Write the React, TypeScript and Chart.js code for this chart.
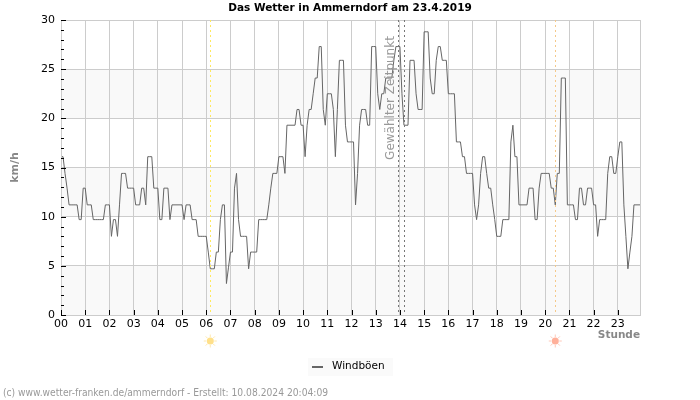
import React, { useEffect, useRef } from "react";
import { Chart, registerables } from "chart.js";

Chart.register(...registerables);

const FONT = "'DejaVu Sans', sans-serif";
const title = "Das Wetter in Ammerndorf am 23.4.2019";
const seriesName = "Windböen";
const hourLabels = ["00","01","02","03","04","05","06","07","08","09","10","11","12","13","14","15","16","17","18","19","20","21","22","23"];
const yMajor = [0, 5, 10, 15, 20, 25, 30];
const shadedBands = [[0, 5], [10, 15], [20, 25]];

// Gust values in km/h, one sample every five minutes, grouped by hour
const h00 = [16.1,16.1,14.4,12.9,11.2,11.2,11.2,11.2,11.2,9.7,9.7,12.9];
const h01 = [12.9,11.2,11.2,11.2,9.7,9.7,9.7,9.7,9.7,9.7,11.2,11.2];
const h02 = [11.2,8,9.7,9.7,8,11.2,14.4,14.4,14.4,12.9,12.9,12.9];
const h03 = [12.9,11.2,11.2,11.2,12.9,12.9,11.2,16.1,16.1,16.1,12.9,12.9];
const h04 = [12.9,9.7,9.7,12.9,12.9,12.9,9.7,11.2,11.2,11.2,11.2,11.2];
const h05 = [11.2,9.7,11.2,11.2,11.2,9.7,9.7,9.7,8,8,8,8];
const h06 = [8,6.4,4.7,4.7,4.7,6.4,6.4,9.7,11.2,11.2,3.2,4.8];
const h07 = [6.4,6.4,12.9,14.4,9.7,8,8,8,8,4.7,6.4,6.4];
const h08 = [6.4,6.4,9.7,9.7,9.7,9.7,9.7,11.2,12.9,14.4,14.4,14.4];
const h09 = [16.1,16.1,16.1,14.4,19.3,19.3,19.3,19.3,19.3,20.9,20.9,19.3];
const h10 = [19.3,16.1,19.3,20.9,20.9,22.5,24.1,24.1,27.3,27.3,20.9,19.3];
const h11 = [22.5,22.5,22.5,20.9,16.1,20.9,25.9,25.9,25.9,19.3,17.6,17.6];
const h12 = [17.6,17.6,11.2,14.4,19.3,20.9,20.9,20.9,19.3,19.3,27.3,27.3];
const h13 = [27.3,22.5,20.9,22.5,22.5,24.1,24.1,24.1,24.1,25.9,27.3,27.3];
const h14 = [27.3,22.5,19.3,19.3,19.3,25.9,25.9,25.9,22.5,20.9,20.9,20.9];
const h15 = [28.8,28.8,28.8,24.1,22.5,22.5,25.9,27.3,27.3,25.9,25.9,25.9];
const h16 = [22.5,22.5,22.5,22.5,17.6,17.6,17.6,16.1,16.1,14.4,14.4,14.4];
const h17 = [14.4,11.2,9.7,11.2,14.4,16.1,16.1,14.4,12.9,12.9,11.2,9.7];
const h18 = [8,8,8,9.7,9.7,9.7,9.7,17.6,19.3,16.1,16.1,11.2];
const h19 = [11.2,11.2,11.2,11.2,12.9,12.9,12.9,9.7,9.7,12.9,14.4,14.4];
const h20 = [14.4,14.4,14.4,12.9,12.9,11.2,14.4,14.4,24.1,24.1,24.1,11.2];
const h21 = [11.2,11.2,11.2,9.7,9.7,12.9,12.9,11.2,11.2,12.9,12.9,12.9];
const h22 = [11.2,11.2,8,9.7,9.7,9.7,9.7,14.4,16.1,16.1,14.4,14.4];
const h23 = [16.1,17.6,17.6,11.2,8,4.7,6.4,8,11.2,11.2,11.2,11.2];
const gusts = [h00,h01,h02,h03,h04,h05,h06,h07,h08,h09,h10,h11,h12,h13,h14,h15,h16,h17,h18,h19,h20,h21,h22,h23].flat();

// Sample indices of the marked moments
const sunrise = 74;
const sunset = 245;
const selectedFrom = 167;
const selectedTo = 170;

const decorations = {
  id: "decorations",
  beforeDraw(chart: any) {
    const { ctx, chartArea: a, scales: { y } } = chart;
    ctx.save();
    ctx.fillStyle = "#f9f9f9";
    for (const [lo, hi] of shadedBands) {
      ctx.fillRect(a.left, y.getPixelForValue(hi), a.width, y.getPixelForValue(lo) - y.getPixelForValue(hi));
    }
    ctx.restore();
  },
  afterDatasetsDraw(chart: any) {
    const { ctx, chartArea: a, scales: { x, y } } = chart;
    ctx.save();
    // chart title, centred on the whole picture
    ctx.fillStyle = "#000000";
    ctx.font = `bold 10.5px ${FONT}`;
    ctx.textAlign = "center";
    ctx.textBaseline = "middle";
    ctx.fillText(title, 350, 8);

    // border
    ctx.strokeStyle = "#cccccc";
    ctx.lineWidth = 1;
    ctx.strokeRect(Math.round(a.left) + 0.5, Math.round(a.top) + 0.5, Math.round(a.width), Math.round(a.height));

    // vertical markers
    const vline = (v: number, color: string, dash: number[]) => {
      const px = Math.round(x.getPixelForValue(v)) + 0.5;
      ctx.strokeStyle = color;
      ctx.setLineDash(dash);
      ctx.beginPath();
      ctx.moveTo(px, a.top);
      ctx.lineTo(px, a.bottom);
      ctx.stroke();
    };
    vline(sunrise, "#ffe95c", [2, 3]);
    vline(sunset, "#f5c98a", [2, 3]);
    vline(selectedFrom, "#777777", [2, 3]);
    vline(selectedTo, "#777777", [2, 3]);
    ctx.setLineDash([]);

    // tick marks inside the plot
    ctx.strokeStyle = "#000000";
    for (const h in hourLabels) {
      const px = Math.round(x.getPixelForValue(Number(h) * 12)) + 0.5;
      ctx.beginPath();
      ctx.moveTo(px, a.bottom);
      ctx.lineTo(px, a.bottom - 5);
      ctx.stroke();
    }
    for (let v = 0; v <= 30; v++) {
      const py = Math.round(y.getPixelForValue(v)) + 0.5;
      ctx.beginPath();
      ctx.moveTo(a.left, py);
      ctx.lineTo(a.left + (v % 5 === 0 ? 5 : 3), py);
      ctx.stroke();
    }

    // selected-moment label
    ctx.save();
    ctx.translate(x.getPixelForValue(selectedFrom) - 7, 98);
    ctx.rotate(-Math.PI / 2);
    ctx.font = `12px ${FONT}`;
    ctx.fillStyle = "#999999";
    ctx.textAlign = "center";
    ctx.textBaseline = "middle";
    ctx.fillText("Gewählter Zeitpunkt", 0, 0);
    ctx.restore();

    // sun symbols
    const sun = (v: number, color: string) => {
      const cx = x.getPixelForValue(v);
      const cy = 341;
      ctx.fillStyle = color;
      ctx.strokeStyle = color;
      ctx.beginPath();
      ctx.arc(cx, cy, 3.5, 0, Math.PI * 2);
      ctx.fill();
      ctx.globalAlpha = 0.7;
      for (let i = 0; i < 8; i++) {
        const t = (i * Math.PI) / 4;
        ctx.beginPath();
        ctx.moveTo(cx + Math.cos(t) * 4, cy + Math.sin(t) * 4);
        ctx.lineTo(cx + Math.cos(t) * 6.5, cy + Math.sin(t) * 6.5);
        ctx.stroke();
      }
      ctx.globalAlpha = 1;
    };
    sun(sunrise, "#ffe08a");
    sun(sunset, "#ffb09a");

    // legend
    ctx.fillStyle = "#fafafa";
    ctx.fillRect(308, 358, 85, 18);
    ctx.fillStyle = "#666666";
    ctx.fillRect(312, 366, 11, 2);
    ctx.fillStyle = "#000000";
    ctx.font = `10.5px ${FONT}`;
    ctx.textAlign = "left";
    ctx.textBaseline = "middle";
    ctx.fillText(seriesName, 332, 366);

    // footer
    ctx.fillStyle = "#999999";
    ctx.font = `10.2px 'DejaVu Sans Condensed', ${FONT}`;
    ctx.textBaseline = "middle";
    ctx.fillText("(c) www.wetter-franken.de/ammerndorf - Erstellt: 10.08.2024 20:04:09", 3, 393);
    ctx.restore();
  },
};

export default function App() {
  const ref = useRef<HTMLCanvasElement>(null);
  useEffect(() => {
    document.body.style.margin = "0";
    const chart = new Chart(ref.current!, {
      type: "line",
      data: {
        datasets: [{
          label: seriesName,
          data: gusts.map((v, i) => ({ x: i, y: v })),
          borderColor: "#666666",
          borderWidth: 1,
          pointRadius: 0,
          tension: 0,
          fill: false,
        }],
      },
      options: {
        responsive: false,
        animation: false,
        devicePixelRatio: 1,
        layout: { padding: { left: 0, right: 60, top: 20, bottom: 58 } },
        plugins: {
          legend: { display: false },
          tooltip: { enabled: false },
          title: { display: false },
        },
        scales: {
          x: {
            type: "linear",
            min: 0,
            max: 287,
            afterFit(s: any) { s.height = 27; },
            grid: { color: "#cccccc", lineWidth: 1, drawTicks: false, tickLength: 0 },
            border: { display: false },
            afterBuildTicks(s: any) { s.ticks = hourLabels.map((_, i) => ({ value: i * 12 })); },
            ticks: {
              autoSkip: false,
              maxRotation: 0,
              padding: 3,
              color: "#000000",
              font: { family: FONT, size: 11 },
              callback: (v: any) => hourLabels[Number(v) / 12],
            },
            title: {
              display: true,
              text: "Stunde",
              align: "end",
              color: "#888888",
              font: { family: FONT, size: 10.5, weight: "bold" },
              padding: { top: 0, bottom: 0 },
            },
          },
          y: {
            min: 0,
            max: 30,
            afterFit(s: any) { s.width = 61; },
            grid: { color: "#cccccc", lineWidth: 1, drawTicks: false, tickLength: 0 },
            border: { display: false },
            afterBuildTicks(s: any) { s.ticks = yMajor.map((v) => ({ value: v })); },
            ticks: {
              padding: 6,
              color: "#000000",
              font: { family: FONT, size: 11 },
            },
            title: {
              display: true,
              text: "km/h",
              color: "#888888",
              font: { family: FONT, size: 11, weight: "bold" },
              padding: { top: 9, bottom: 0 },
            },
          },
        },
      },
      plugins: [decorations],
    } as any);
    return () => chart.destroy();
  }, []);
  return <canvas ref={ref} width={700} height={400} style={{ display: "block" }} />;
}
